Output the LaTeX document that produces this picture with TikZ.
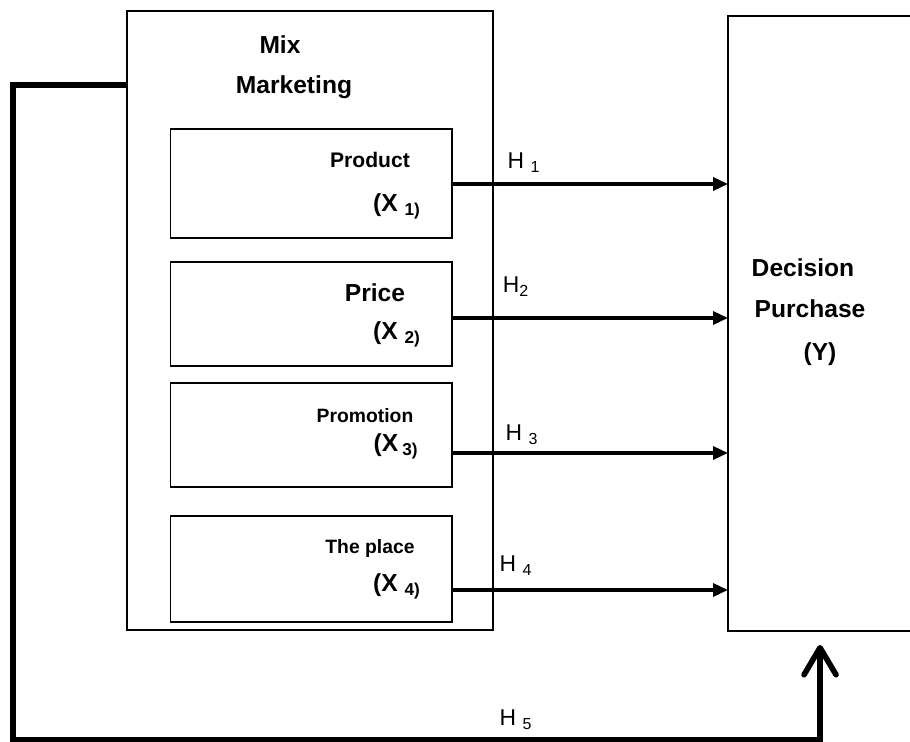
\documentclass[tikz,border=0pt]{standalone}
\usepackage{fontspec}
\setmainfont{Liberation Sans}
\usepackage{tikz}
\usetikzlibrary{arrows.meta,positioning,calc}
\tikzset{
  groupbox/.style={draw=black,line width=1.2pt,inner sep=0pt,outer sep=0pt},
  varbox/.style={draw=black,line width=0.6pt,inner sep=0pt,outer sep=0pt,minimum width=5.64cm},
  bigtext/.style={font=\fontsize{14}{16}\selectfont\bfseries,inner sep=0pt},
  smalltext/.style={font=\fontsize{11}{13}\selectfont\bfseries,inner sep=0pt},
  hyptext/.style={font=\fontsize{13}{15}\selectfont,inner sep=0pt},
  hyparrow/.style={-{Triangle[length=3mm,width=2.6mm]},line width=1.9pt},
  feedarrow/.style={-{Straight Barb[length=5.4mm,width=6.4mm,round]},line width=3.2pt}
}
\begin{document}
\begin{tikzpicture}[x=0.02cm,y=-0.02cm]
\useasboundingbox (0,0) rectangle (910,742);
% boxes
\node[groupbox,minimum width=7.32cm,minimum height=12.38cm] (mix) at (310,320.5) {};
\node[groupbox,minimum width=4.64cm,minimum height=12.3cm] (decision) at (844,323.5) {};
\node[varbox,minimum height=2.18cm] (product) at (311,183.5) {};
\node[varbox,minimum height=2.08cm] (price) at (311,314) {};
\node[varbox,minimum height=2.08cm] (promo) at (311,435) {};
\node[varbox,minimum height=2.12cm] (place) at (311,569) {};
% labels
\node[bigtext] (mixlbl) at (280,45) {Mix};
\node[bigtext] (mktlbl) at (294,87) {Marketing};
\node[smalltext,font=\fontsize{12}{14}\selectfont\bfseries] (prodlbl) at (370,160) {Product};
\node[bigtext] (x1) at (397,206) {(X \textsubscript{1)}};
\node[bigtext] (pricelbl) at (375,293) {Price};
\node[bigtext] (x2) at (397,334) {(X \textsubscript{2)}};
\node[smalltext] (promolbl) at (365,416) {Promotion};
\node[bigtext] (x3) at (396,446) {(X\,\textsubscript{3)}};
\node[smalltext] (placelbl) at (370,549) {The place};
\node[bigtext] (x4) at (397,586) {(X \textsubscript{4)}};
\node[bigtext] (declbl) at (803,268) {Decision};
\node[bigtext] (purlbl) at (810,309) {Purchase};
\node[bigtext] (ylbl) at (820,354) {(Y)};
% hypotheses
\coordinate (s1) at ($(product.east)+(0,0.5)$);
\coordinate (s2) at ($(price.east)+(0,4)$);
\coordinate (s3) at ($(promo.east)+(0,18)$);
\coordinate (s4) at ($(place.east)+(0,21)$);
\draw[hyparrow] (s1) -- (s1 -| decision.west);
\draw[hyparrow] (s2) -- (s2 -| decision.west);
\draw[hyparrow] (s3) -- (s3 -| decision.west);
\draw[hyparrow] (s4) -- (s4 -| decision.west);
\node[hyptext] (h1) at (524,163) {H \textsubscript{1}};
\node[hyptext] (h2) at (516,287) {H\textsubscript{2}};
\node[hyptext] (h3) at (522,435) {H \textsubscript{3}};
\node[hyptext] (h4) at (516,566) {H \textsubscript{4}};
\node[hyptext] (h5) at (516,720) {H \textsubscript{5}};
% feedback line
\coordinate (fb) at ($(mix.north west)+(0,74)$);
\coordinate (fbtip) at ($(decision.south west)+(92,14)$);
\draw[feedarrow] (fb) -- (13,85) -- (13,740) -- (fbtip |- 0,740) -- (fbtip);
\end{tikzpicture}
\end{document}
